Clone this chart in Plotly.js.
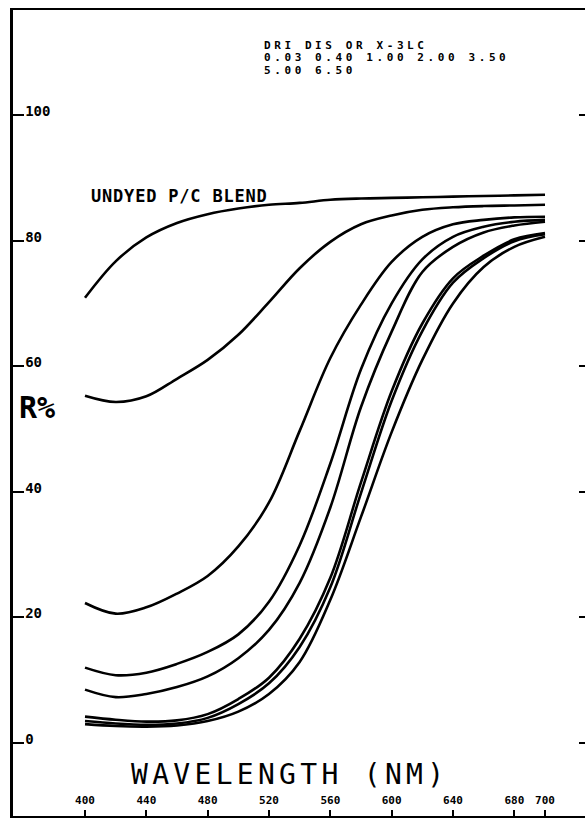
<!DOCTYPE html>
<html>
<head>
<meta charset="utf-8">
<script src="https://cdn.plot.ly/plotly-3.0.1.min.js"></script>
<style>
  html, body { margin: 0; padding: 0; background: #fff; }
  #chart { width: 587px; height: 818px; }
</style>
</head>
<body>
<div id="chart"></div>
<script>
// ---- data ----
const wavelength = [400, 420, 440, 460, 480, 500, 520, 540, 560, 580, 600, 620, 640, 660, 680, 700];

const undyedBlend = [70.9, 76.7, 80.5, 82.8, 84.2, 85.1, 85.7, 86.0, 86.5, 86.7, 86.8, 86.9, 87.0, 87.1, 87.2, 87.3];
const dye003 = [55.3, 54.3, 55.2, 58.0, 61.0, 65.0, 70.2, 75.6, 79.8, 82.6, 84.0, 84.9, 85.3, 85.5, 85.6, 85.7];
const dye040 = [22.3, 20.6, 21.6, 23.8, 26.6, 31.3, 38.3, 49.7, 61.3, 69.8, 76.6, 80.6, 82.6, 83.3, 83.7, 83.8];
const dye100 = [12.0, 10.8, 11.2, 12.6, 14.5, 17.3, 22.5, 31.5, 44.5, 59.5, 70.0, 77.0, 80.6, 82.2, 83.0, 83.3];
const dye200 = [8.5, 7.3, 7.8, 8.9, 10.6, 13.5, 18.0, 25.5, 37.5, 53.5, 65.5, 75.0, 79.0, 81.3, 82.4, 83.0];
const dye350 = [4.2, 3.7, 3.4, 3.6, 4.6, 7.0, 10.4, 16.6, 26.3, 41.5, 56.0, 66.8, 74.0, 77.6, 80.2, 81.2];
const dye500 = [3.5, 3.1, 2.9, 3.1, 4.0, 6.2, 9.5, 15.3, 24.8, 39.8, 54.5, 65.6, 73.3, 77.2, 79.9, 81.0];
const dye650 = [3.0, 2.7, 2.6, 2.8, 3.5, 5.0, 7.8, 12.9, 22.8, 36.0, 49.5, 61.0, 70.0, 75.8, 79.0, 80.6];

const seriesNames = ["UNDYED P/C BLEND", "0.03", "0.40", "1.00", "2.00", "3.50", "5.00", "6.50"];
const seriesValues = [undyedBlend, dye003, dye040, dye100, dye200, dye350, dye500, dye650];

const xTickVals = [400, 440, 480, 520, 560, 600, 640, 680, 700];
const xTickText = ["400", "440", "480", "520", "560", "600", "640", "680", "700"];
const yTickVals = [0, 20, 40, 60, 80, 100];
const yTickText = ["0", "20", "40", "60", "80", "100"];

const headerLines = ["DRI DIS OR X-3LC", "0.03 0.40 1.00 2.00 3.50", "5.00 6.50"];
const curveLabel = "UNDYED P/C BLEND";
const xTitle = "WAVELENGTH (NM)";
const yTitle = "R%";

// ---- layout helpers ----
const W = 587, H = 818;
const M = { l: 13, r: 2, t: 10, b: 2 };
const px = v => (v - M.l) / (W - M.l - M.r);
const py = v => (H - M.b - v) / (H - M.t - M.b);
const mono = "DejaVu Sans Mono, monospace";

const traces = seriesValues.map((vals, i) => ({
  x: wavelength,
  y: vals,
  name: seriesNames[i],
  type: "scatter",
  mode: "lines",
  line: { color: "#000", width: 2.6, shape: "spline", smoothing: 1 },
  hoverinfo: "skip"
}));
// invisible trace to drive the right-hand tick axis
traces.push({ x: [wavelength[0]], y: [0], yaxis: "y2", mode: "markers",
  marker: { opacity: 0 }, showlegend: false, hoverinfo: "skip" });

const annotations = [];
const letterSpacing = [];
function addText(text, x, y, size, bold, spacing) {
  annotations.push({
    text: text, xref: "paper", yref: "paper", x: px(x), y: py(y),
    xanchor: "left", yanchor: "middle", align: "left", showarrow: false,
    font: { family: mono, size: size, weight: bold ? "bold" : "normal", color: "#000" }
  });
  letterSpacing.push(spacing);
}
headerLines.forEach((t, i) => addText(t, 262, 45 + i * 12.5, 11, true, 3.6));
addText(curveLabel, 89, 196, 17, true, 0.8);
addText(xTitle, 129, 774, 28, false, 4.3);
addText(yTitle, 17, 407, 30, true, 0);

const layout = {
  width: W, height: H,
  margin: M,
  paper_bgcolor: "#fff", plot_bgcolor: "#fff",
  showlegend: false,
  xaxis: {
    range: [400 + (M.l - 85) / 1.5333, 400 + (W - M.r - 85) / 1.5333],
    showgrid: false, zeroline: false,
    showline: true, linecolor: "#000", linewidth: 2, mirror: true,
    ticks: "inside", ticklen: 6, tickwidth: 2, tickcolor: "#000",
    tickvals: xTickVals, ticktext: xTickText,
    ticklabelposition: "inside", ticklabelstandoff: 3,
    tickfont: { family: mono, size: 11, weight: "bold", color: "#000" },
    fixedrange: true
  },
  yaxis: {
    range: [(743 - (H - M.b)) / 6.28, (743 - M.t) / 6.28],
    showgrid: false, zeroline: false,
    showline: true, linecolor: "#000", linewidth: 3,
    ticks: "inside", ticklen: 11, tickwidth: 2, tickcolor: "#000",
    tickvals: yTickVals, ticktext: yTickText,
    ticklabelposition: "inside", ticklabelshift: -4, ticklabelstandoff: 1,
    tickfont: { family: mono, size: 14, weight: "bold", color: "#000" },
    fixedrange: true
  },
  yaxis2: {
    overlaying: "y", side: "right",
    range: [(743 - (H - M.b)) / 6.28, (743 - M.t) / 6.28],
    showgrid: false, zeroline: false, showline: false,
    ticks: "inside", ticklen: 6, tickwidth: 2, tickcolor: "#000",
    tickvals: yTickVals, showticklabels: false,
    fixedrange: true
  },
  annotations: annotations
};

Plotly.newPlot("chart", traces, layout, { staticPlot: true, displayModeBar: false })
  .then(gd => {
    letterSpacing.forEach((s, i) => {
      if (!s) return;
      const t = gd.querySelector('.annotation[data-index="' + i + '"] text.annotation-text');
      if (t) t.style.letterSpacing = s + "px";
    });
  });
</script>
</body>
</html>
